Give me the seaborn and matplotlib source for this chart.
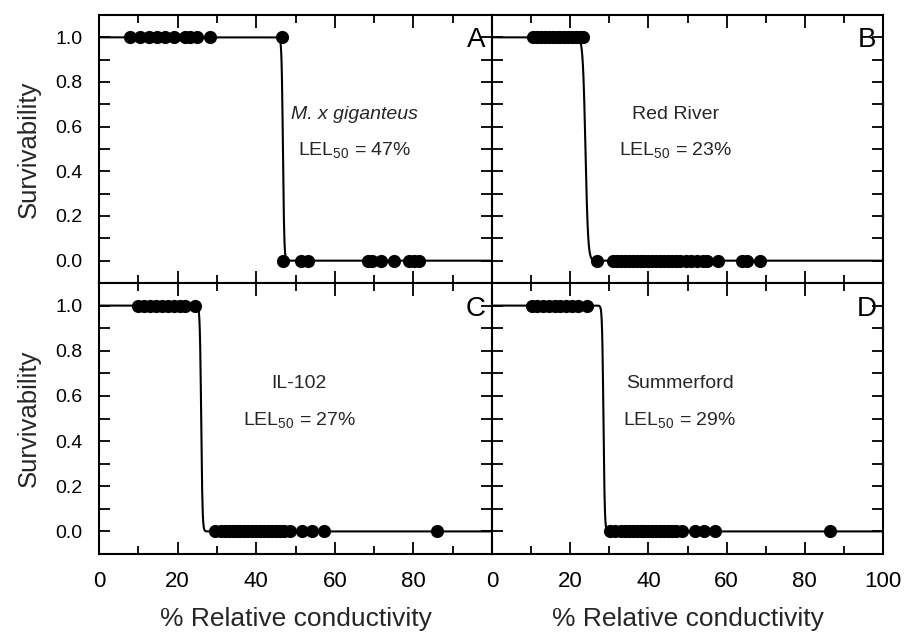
import numpy as np
import pandas as pd
import matplotlib
matplotlib.use("Agg")
import matplotlib.pyplot as plt
from matplotlib.ticker import MultipleLocator
import seaborn as sns

sns.set_style("ticks")
plt.rcParams["font.family"] = ["Liberation Sans", "DejaVu Sans"]
plt.rcParams["mathtext.fontset"] = "custom"
plt.rcParams["mathtext.rm"] = "Liberation Sans"

# ---- data ----
panels = ["A", "B", "C", "D"]
cultivars = ["M. x giganteus", "Red River", "IL-102", "Summerford"]
lel50_labels = [47, 23, 27, 29]
curve_mid = [46.8, 23.9, 26.0, 28.5]      # where fitted curve crosses 0.5
curve_slope = [6.0, 3.0, 6.0, 6.0]

alive_A = [7.9, 10.5, 12.6, 14.7, 16.8, 19.0, 21.9, 23.2, 24.9, 28.3, 46.5]
dead_A = [46.8, 51.3, 53.3, 68.4, 69.5, 71.7, 75.0, 78.8, 80.1, 81.4]
alive_B = [10.5, 11.5, 12.5, 13.5, 14.5, 15.5, 16.5, 17.5, 18.5, 19.5, 20.5,
           21.5, 22.5, 23.3]
dead_B = [26.8, 31, 32, 33, 34, 35, 36, 37, 38, 39, 40, 41, 42, 43, 44, 45, 46,
          47, 48, 49.5, 51, 52.5, 54, 55, 57.8, 63.9, 65.1, 68.5]
alive_C = [10, 11.5, 13, 14.5, 16, 17.5, 19, 20.5, 22, 24.5]
dead_C = [29.6, 31, 32, 33, 34, 35, 36, 37, 38, 39, 40, 41, 42, 43, 44, 45, 46,
          47, 48.7, 51.7, 54.3, 57.2, 86.1]
alive_D = [10.2, 11.5, 13, 14.5, 16, 17.5, 19, 20.5, 22, 24.3]
dead_D = [30.2, 31.5, 33, 34, 35, 36, 37, 38, 39, 40, 41, 42, 43, 44, 45, 46,
          47, 48.5, 51.8, 54.2, 57.0, 86.5]

alive = [alive_A, alive_B, alive_C, alive_D]
dead = [dead_A, dead_B, dead_C, dead_D]

rows = []
for p, a, d in zip(panels, alive, dead):
    rows += [{"panel": p, "x": v, "y": 1.0} for v in a]
    rows += [{"panel": p, "x": v, "y": 0.0} for v in d]
pts = pd.DataFrame(rows)

grid = np.linspace(0, 100, 2001)
crows = []
for p, m, k in zip(panels, curve_mid, curve_slope):
    yy = 1.0 / (1.0 + np.exp(k * (grid - m)))
    crows.append(pd.DataFrame({"panel": p, "x": grid, "y": yy}))
curves = pd.concat(crows, ignore_index=True)

# ---- figure ----
fig = plt.figure(figsize=(9.05, 6.36), dpi=100)
L1, W1 = 99 / 905, 393 / 905
L2, W2 = 492 / 905, 391 / 905
B_top, H_top = 1 - 283 / 636, 268 / 636
B_bot, H_bot = 1 - 554 / 636, 271 / 636
pos = [(L1, B_top, W1, H_top), (L2, B_top, W2, H_top),
       (L1, B_bot, W1, H_bot), (L2, B_bot, W2, H_bot)]

text_xy = [(65, 0.655, 0.49), (47, 0.655, 0.49), (51, 0.655, 0.49), (48, 0.655, 0.49)]

for i, p in enumerate(panels):
    ax = fig.add_axes(pos[i])
    sub_c = curves[curves.panel == p]
    sub_p = pts[pts.panel == p]
    sns.lineplot(data=sub_c, x="x", y="y", ax=ax, color="black", lw=1.5,
                 estimator=None, sort=False)
    sns.scatterplot(data=sub_p, x="x", y="y", ax=ax, color="black", s=90,
                    edgecolor="black", linewidth=0, zorder=5)
    ax.set_xlim(0, 100)
    ax.set_ylim(-0.1, 1.1)
    ax.xaxis.set_major_locator(MultipleLocator(20))
    ax.xaxis.set_minor_locator(MultipleLocator(10))
    ax.yaxis.set_major_locator(MultipleLocator(0.2))
    ax.yaxis.set_minor_locator(MultipleLocator(0.1))
    ax.tick_params(which="both", direction="in", top=True, right=True,
                   width=1.3, colors="black")
    ax.tick_params(axis="x", which="major", length=9, labelsize=16)
    ax.tick_params(axis="x", which="minor", length=6)
    ax.tick_params(axis="y", which="both", length=8, labelsize=14)
    for s in ax.spines.values():
        s.set_linewidth(1.5)
        s.set_color("black")
    ax.set_xlabel("")
    ax.set_ylabel("")
    col = i % 2
    row = i // 2
    if row == 0:
        ax.tick_params(axis="x", labelbottom=False)
    else:
        ax.set_xticks([0, 20, 40, 60, 80, 100])
        if col == 0:
            ax.set_xticklabels(["0", "20", "40", "60", "80", ""])
        ax.set_xlabel("% Relative conductivity", fontsize=19, labelpad=11)
        ax.tick_params(axis="x", pad=12)
    if col == 1:
        ax.tick_params(axis="y", labelleft=False)
    else:
        ax.set_yticks([0.0, 0.2, 0.4, 0.6, 0.8, 1.0])
        ax.set_yticklabels(["0.0", "0.2", "0.4", "0.6", "0.8", "1.0"])
        ax.set_ylabel("Survivability", fontsize=18.5, labelpad=10)
        ax.tick_params(axis="y", pad=12)

    ax.text(0.983, 0.905, p, transform=ax.transAxes, fontsize=20,
            ha="right", va="center", color="black")
    tx, ty1, ty2 = text_xy[i]
    style = "italic" if i == 0 else "normal"
    ax.text(tx, ty1, cultivars[i], fontsize=14, ha="center", va="center",
            fontstyle=style)
    ax.text(tx, ty2, "LEL$_{50}$ = " + f"{lel50_labels[i]}%", fontsize=14,
            ha="center", va="center")

fig.savefig("out.png", dpi=100, facecolor="white")
